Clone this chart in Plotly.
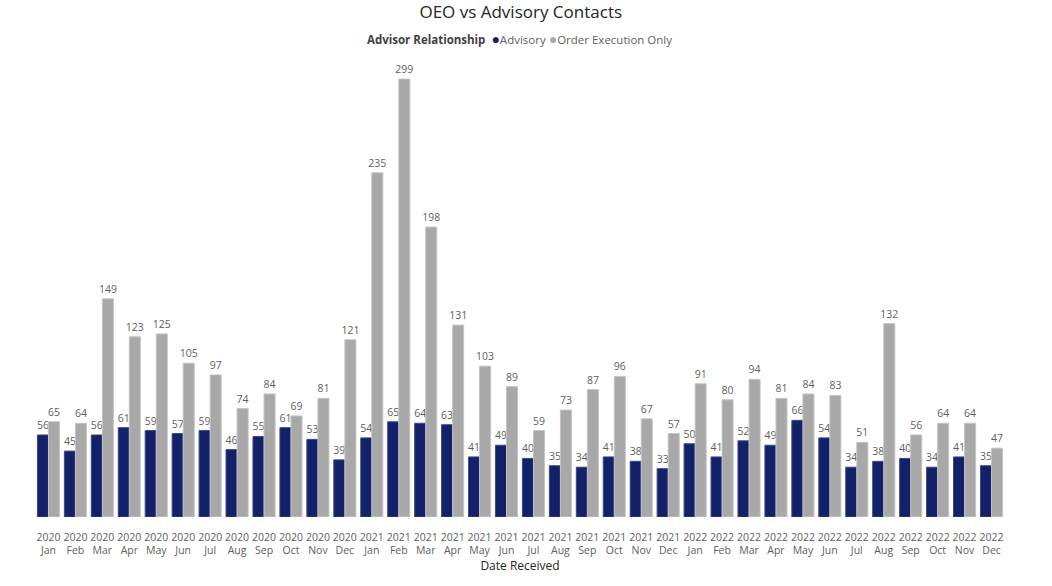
import plotly.graph_objects as go

years = ["2020"] * 12 + ["2021"] * 12 + ["2022"] * 12
months = ["Jan", "Feb", "Mar", "Apr", "May", "Jun", "Jul", "Aug", "Sep", "Oct", "Nov", "Dec"] * 3
categories = [f"{y}<br>{m}" for y, m in zip(years, months)]

advisory = [56, 45, 56, 61, 59, 57, 59, 46, 55, 61, 53, 39,
            54, 65, 64, 63, 41, 49, 40, 35, 34, 41, 38, 33,
            50, 41, 52, 49, 66, 54, 34, 38, 40, 34, 41, 35]
oeo = [65, 64, 149, 123, 125, 105, 97, 74, 84, 69, 81, 121,
       235, 299, 198, 131, 103, 89, 59, 73, 87, 96, 67, 57,
       91, 80, 94, 81, 84, 83, 51, 132, 56, 64, 64, 47]

NAVY = "#13216A"
GRAY = "#A8A8A8"
FONT = "Segoe UI, Open Sans, sans-serif"

fig = go.Figure()
fig.add_trace(go.Bar(
    x=categories, y=advisory, name="Advisory",
    marker=dict(color=NAVY, line=dict(color="#3A4788", width=1)),
    text=advisory, textposition="outside", cliponaxis=False, constraintext="none",
    textfont=dict(size=10.5, color="#605E5C", family=FONT), showlegend=False))
fig.add_trace(go.Bar(
    x=categories, y=oeo, name="Order Execution Only",
    marker=dict(color=GRAY, line=dict(color="#C4C4C4", width=1)),
    text=oeo, textposition="outside", cliponaxis=False, constraintext="none",
    textfont=dict(size=10.5, color="#605E5C", family=FONT), showlegend=False))

legend_text = (
    "<b>Advisor Relationship</b>  "
    f"<span style='color:{NAVY};font-size:14px'>●</span><span style='color:#605E5C'>Advisory</span> "
    f"<span style='color:{GRAY};font-size:14px'>●</span><span style='color:#605E5C'>Order Execution Only</span>"
)

fig.update_layout(
    width=1052, height=586,
    paper_bgcolor="white", plot_bgcolor="white",
    margin=dict(l=35, r=47, t=60, b=69),
    barmode="group", bargap=0.18, bargroupgap=0,
    showlegend=False,
    font=dict(family=FONT, color="#605E5C"),
    title=dict(text="OEO vs Advisory Contacts", x=0.495, xanchor="center", y=1 - 12 / 586, yanchor="middle",
               font=dict(size=17, color="#252423", family=FONT)),
    annotations=[dict(text=legend_text, xref="paper", yref="paper", x=0.499, xanchor="center",
                      y=1 + 22 / 457, yanchor="middle", showarrow=False,
                      font=dict(size=11.5, color="#404040", family=FONT))],
    xaxis=dict(type="category", showgrid=False, showline=False, ticks="", tickangle=0,
               ticklabelstandoff=12,
               tickfont=dict(size=10.5, color="#605E5C"),
               title=dict(text="Date Received", font=dict(size=12, color="#252423"), standoff=0)),
    yaxis=dict(visible=False, range=[0, 312]),
)

fig.write_html("out.html")
